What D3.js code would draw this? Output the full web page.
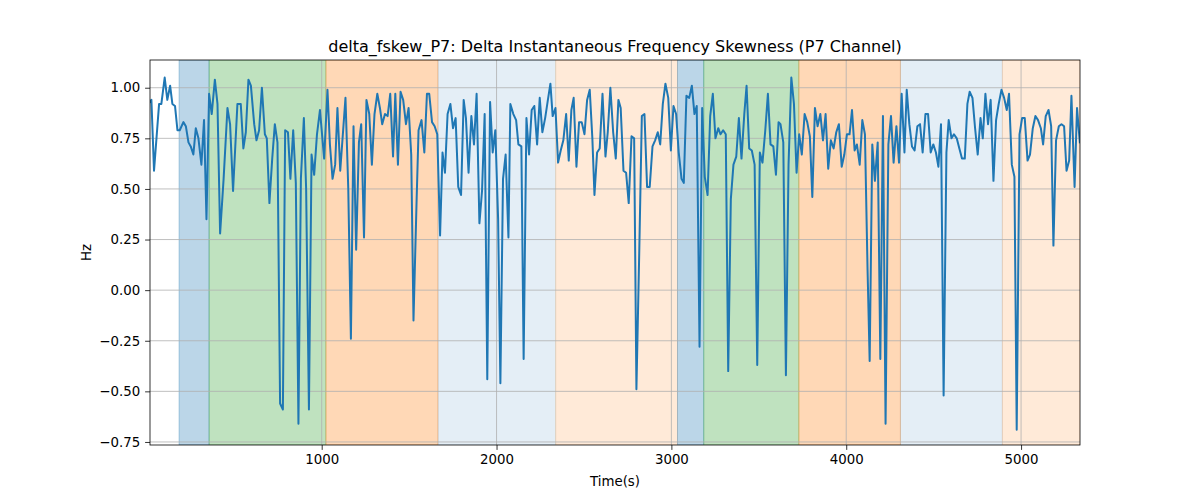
<!DOCTYPE html>
<html><head><meta charset="utf-8">
<script src="https://cdn.jsdelivr.net/npm/d3@7/dist/d3.min.js"></script>
<style>body{margin:0;background:#fff}svg{display:block}text{font-family:"DejaVu Sans",sans-serif;fill:#000}</style>
</head><body><svg id="c" width="1200" height="500"></svg>
<script>
const times = [18,26,41,70,83,102,117,133,146,161,175,188,209,223,238,251,266,280,295,312,327,341,356,371,389,404,419,439,461,476,493,518,537,
552,566,581,595,614,627,642,658,675,686,701,717,732,747,762,778,791,807,821,837,852,867,881,898,911,927,942,957,973,990,
1014,1033,1047,1062,1077,1090,1106,1121,1136,1152,1167,1182,1197,1213,1226,1242,1256,1272,1287,1302,1318,1333,1346,1362,1377,1392,1408,1421,1436,1451,1466,1482,1497,1512,1525,1543,
1554,1571,1587,1602,1615,1631,1646,1661,1677,1691,1705,1720,1736,1751,1766,1781,1797,1812,1825,1840,1856,1871,1886,1902,1917,1932,1947,1963,1978,1993,2009,2022,2037,2052,2068,
2079,2096,2112,2125,2142,2155,2171,2186,2201,2216,2232,2247,2262,2278,2292,2308,2321,2337,2352,2367,2382,2398,2413,2428,2441,2457,2472,2487,2503,2518,2533,2548,2560,2575,
2590,2606,2623,2636,2651,2667,2682,2697,2710,2726,2741,2756,2772,2787,2800,2816,2831,2846,2861,2876,2892,2907,2922,2936,2951,2966,2982,2997,3012,3027,3042,3058,3071,
3086,3102,3117,3132,3145,3161,3176,3191,3207,3222,3237,3252,3268,3281,3296,3311,3325,3340,3355,3371,3386,3401,3417,3430,3445,3460,3476,3491,3506,3521,3537,3552,3567,3583,3598,3613,
3624,3640,3655,3670,3686,3701,3716,3731,3746,3762,3777,3792,3806,3821,3836,3852,3867,3882,3897,3912,3928,3943,3958,3974,3989,4004,4019,4033,4048,4061,4077,4092,4107,4122,4134,
4149,4164,4180,4195,4210,4225,4241,4256,4271,4287,4302,4317,4333,4346,4361,4376,4391,4407,4422,4437,4453,4468,4483,4498,4513,4527,4542,4557,4573,4586,4602,4616,4632,4647,
4662,4678,4693,4706,4722,4737,4752,4768,4781,4796,4811,4826,4842,4857,4872,4888,4903,4918,4931,4947,4962,4975,4991,5006,5021,5037,5051,5067,5082,5097,5113,5126,5141,5157,
5172,5185,5200,5216,5231,5246,5260,5275,5288,5306,5320,5336];
const values = [0.93,0.94,0.59,0.92,0.92,1.05,0.94,1.01,0.92,0.91,0.79,0.79,0.83,0.81,0.73,0.71,0.67,0.80,0.75,0.62,0.84,0.35,0.97,0.87,1.04,0.92,0.28,0.55,0.90,0.82,0.49,0.92,0.92,
0.70,0.78,1.04,1.01,0.82,0.74,0.79,1.00,0.77,0.75,0.43,0.65,0.82,0.73,-0.56,-0.59,0.79,0.78,0.55,0.79,0.53,-0.66,0.55,0.85,0.50,-0.59,0.67,0.57,0.77,0.89,
0.65,0.99,0.72,0.55,0.62,0.90,0.59,0.77,0.95,0.50,-0.24,0.81,0.20,0.73,0.82,0.26,0.94,0.87,0.62,0.87,0.97,0.90,0.82,0.87,0.86,0.97,0.66,0.97,0.62,0.98,0.94,0.82,0.90,0.67,-0.15,0.45,
0.79,0.84,0.68,0.97,0.97,0.83,0.81,0.77,0.27,0.68,0.58,0.87,0.92,0.80,0.85,0.51,0.47,0.94,0.85,0.58,0.86,0.72,0.97,0.33,0.49,0.87,-0.44,0.93,0.68,0.79,0.35,-0.46,0.55,0.67,0.26,
0.92,0.87,0.84,0.72,0.71,-0.34,0.85,0.67,0.89,0.91,0.72,0.95,0.78,0.85,0.93,1.02,0.86,0.90,0.63,0.69,0.74,0.87,0.64,0.89,0.95,0.61,0.83,0.83,0.77,0.94,0.99,0.75,0.47,0.68,
0.70,0.97,0.66,0.78,1.00,0.78,0.65,0.94,0.90,0.59,0.58,0.43,0.76,0.75,-0.49,0.18,0.86,0.87,0.51,0.51,0.71,0.74,0.78,0.72,0.92,1.02,0.95,0.69,0.91,0.87,0.68,0.55,0.53,
0.96,0.95,1.01,0.87,0.91,-0.28,0.90,0.56,0.47,0.86,0.97,0.75,0.80,0.77,0.79,0.77,-0.40,0.45,0.62,0.66,0.85,0.65,0.87,1.01,0.70,0.69,0.62,-0.37,0.68,0.63,0.79,0.97,0.72,0.71,0.57,0.83,
0.82,0.73,-0.42,0.62,1.05,0.92,0.58,0.77,0.67,0.87,0.83,0.76,0.46,0.90,0.81,0.87,0.74,0.87,0.60,0.74,0.70,0.78,0.82,0.61,0.67,0.77,0.77,0.89,0.69,0.72,0.62,0.84,0.77,0.10,-0.35,
0.72,0.54,0.73,-0.34,0.86,-0.66,0.72,0.86,0.63,0.81,0.63,0.97,0.68,0.99,0.82,0.71,0.69,0.81,0.82,0.68,0.87,0.87,0.68,0.72,0.68,0.61,0.82,-0.52,0.68,0.84,0.75,0.77,0.75,0.70,
0.65,0.65,0.92,0.98,0.95,0.80,0.67,0.85,0.75,0.97,0.82,0.94,0.54,0.84,0.92,0.99,0.95,0.89,0.97,0.62,0.56,-0.69,0.77,0.85,0.85,0.64,0.67,0.80,0.86,0.84,0.80,0.72,0.86,0.89,
0.81,0.22,0.74,0.81,0.82,0.81,0.59,0.64,0.96,0.51,0.90,0.73];

const spanStart = [184, 356, 1024, 1665, 2338, 3035, 3185, 3729, 4310, 4893];
const spanEnd   = [356, 1024, 1665, 2338, 3035, 3185, 3729, 4310, 4893, 5337];
const spanKind  = ["blue", "green", "orange", "lightblue", "lightorange", "blue", "green", "orange", "lightblue", "lightorange"];

const xTicks = [1000, 2000, 3000, 4000, 5000];
const yTicks = [-0.75, -0.5, -0.25, 0, 0.25, 0.5, 0.75, 1.0];
const titleText = "delta_fskew_P7: Delta Instantaneous Frequency Skewness (P7 Channel)";
const xLabel = "Time(s)";
const yLabel = "Hz";

const kindStyle = {
  blue: {c: "#1f77b4", a: 0.3},
  green: {c: "#2ca02c", a: 0.3},
  orange: {c: "#ff7f0e", a: 0.3},
  lightblue: {c: "#1f77b4", a: 0.12},
  lightorange: {c: "#ff7f0e", a: 0.16}
};

const L = 150, R = 1080, T = 60, B = 445;
const svg = d3.select("#c");
const x = d3.scaleLinear().domain([18, 5337]).range([L, R]);
const y = d3.scaleLinear().domain([-0.765, 1.137]).range([B, T]);

const clip = svg.append("clipPath").attr("id","pc").append("rect").attr("x",L).attr("y",T).attr("width",R-L).attr("height",B-T);

// spans
const spanG = svg.append("g").attr("clip-path","url(#pc)");
spanStart.forEach((s,i)=>{
  const st = kindStyle[spanKind[i]];
  spanG.append("rect").attr("x", x(s)).attr("y", T).attr("width", x(spanEnd[i]) - x(s)).attr("height", B-T)
    .attr("fill", st.c).attr("fill-opacity", st.a).attr("stroke", st.c).attr("stroke-opacity", st.a).attr("stroke-width", 1);
});

// grid
const grid = svg.append("g");
xTicks.forEach(t=>grid.append("line").attr("x1",x(t)).attr("x2",x(t)).attr("y1",T).attr("y2",B).attr("stroke","#b0b0b0").attr("stroke-width",0.8));
yTicks.forEach(t=>grid.append("line").attr("x1",L).attr("x2",R).attr("y1",y(t)).attr("y2",y(t)).attr("stroke","#b0b0b0").attr("stroke-width",0.8));

// line
const pts = times.map((t,i)=>[t, values[i]]);
svg.append("path").attr("clip-path","url(#pc)").datum(pts)
  .attr("d", d3.line().x(d=>x(d[0])).y(d=>y(d[1])))
  .attr("fill","none").attr("stroke","#1f77b4").attr("stroke-width",2).attr("stroke-linejoin","round").attr("stroke-linecap","square");

// axes
const fmtY = d => d3.format(".2f")(d).replace("-", "\u2212");
const xAxis = d3.axisBottom(x).tickValues(xTicks).tickSize(4.9).tickPadding(4.9).tickFormat(d3.format("d"));
const yAxis = d3.axisLeft(y).tickValues(yTicks).tickSize(4.9).tickPadding(4.9).tickFormat(fmtY);
const gx = svg.append("g").attr("transform",`translate(0,${B})`).call(xAxis);
const gy = svg.append("g").attr("transform",`translate(${L},0)`).call(yAxis);
[gx, gy].forEach(g=>{
  g.select(".domain").remove();
  g.selectAll(".tick line").attr("stroke","#000").attr("stroke-width",0.8);
  g.selectAll(".tick text").attr("font-size","13.33px").attr("font-family","DejaVu Sans").attr("fill","#000");
});

// frame
svg.append("rect").attr("x",L).attr("y",T).attr("width",R-L).attr("height",B-T).attr("fill","none").attr("stroke","#000").attr("stroke-width",0.8);

// texts
svg.append("text").attr("x",(L+R)/2).attr("y",T-8).attr("text-anchor","middle").attr("font-size","16px").text(titleText);
svg.append("text").attr("x",(L+R)/2).attr("y",486).attr("text-anchor","middle").attr("font-size","13.33px").text(xLabel);
svg.append("text").attr("transform",`translate(91,${(T+B)/2}) rotate(-90)`).attr("text-anchor","middle").attr("font-size","13.33px").text(yLabel);
</script></body></html>
